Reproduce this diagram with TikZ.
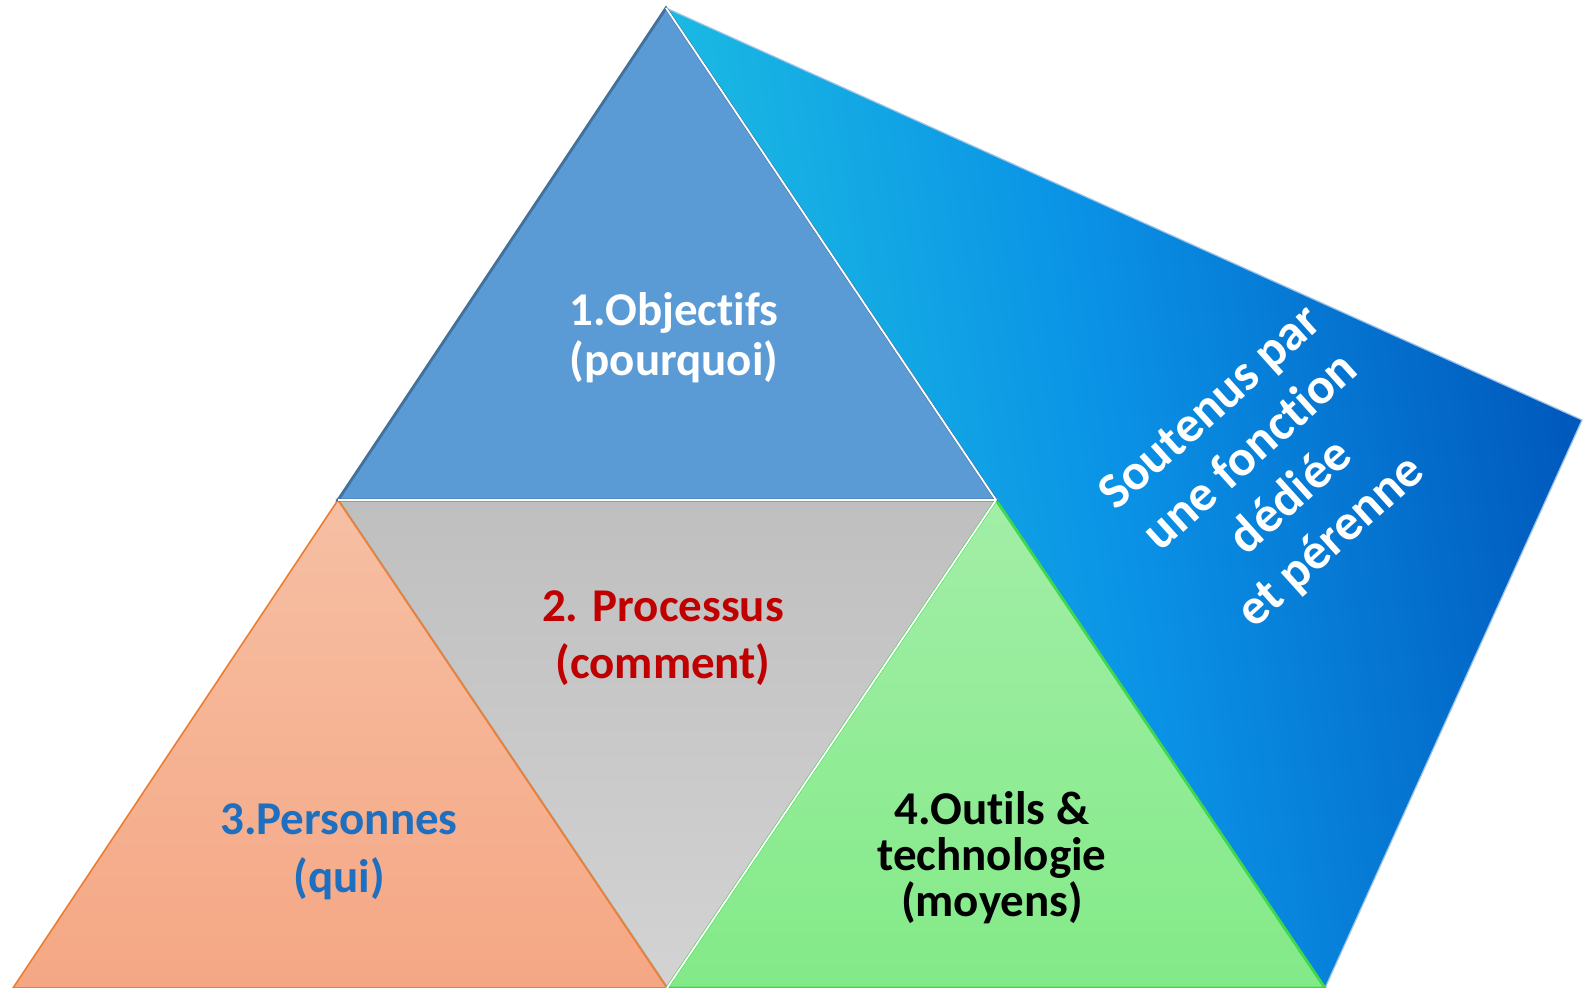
\documentclass[tikz,border=0pt]{standalone}
\usepackage{fontspec}
\setmainfont[RawFeature={-liga;-clig;-calt;-dlig}]{Carlito}
\usepackage{xcolor}
\usetikzlibrary{positioning}

\definecolor{objfill}{HTML}{5B9BD5}
\definecolor{objedge}{HTML}{41719C}
\definecolor{proctop}{HTML}{BFBFBF}
\definecolor{procbot}{HTML}{D3D3D3}
\definecolor{procedge}{HTML}{A8A8A8}
\definecolor{perstop}{HTML}{F6BFA4}
\definecolor{persbot}{HTML}{F5A784}
\definecolor{persedge}{HTML}{ED7D31}
\definecolor{outtop}{HTML}{A2EEA7}
\definecolor{outbot}{HTML}{83EA88}
\definecolor{outedge}{HTML}{3ED84A}
\definecolor{soutlight}{HTML}{1EC2E2}
\definecolor{soutmid}{HTML}{0A92E6}
\definecolor{soutdark}{HTML}{0058BC}
\definecolor{proctext}{HTML}{C00000}
\definecolor{perstext}{HTML}{1E6FBF}

\begin{document}
\begin{tikzpicture}[x=0.5pt,y=-0.5pt,
  edge/.style={line width=1.4pt,line join=miter},
  gap/.style={draw=white,line width=0.9pt},
  title/.style={align=center,font=\bfseries\fontsize{23.5}{#1}\selectfont}]
  \useasboundingbox (0,0) rectangle (1583,988);

  % corners
  \coordinate (T) at (666,8);
  \coordinate (ML) at (338,500);
  \coordinate (MR) at (996,500);
  \coordinate (BL) at (13,988);
  \coordinate (BM) at (667,988);
  \coordinate (BR) at (1325,988);
  \coordinate (RC) at (1582,420);

  % side band
  \shade[left color=soutlight,right color=soutdark,middle color=soutmid,
    shading angle=99] (T) -- (RC) -- (BR) -- (MR) -- cycle;
  \draw[draw=objfill!60!white,line width=0.6pt] (T) -- (RC) -- (BR);

  % the four triangles
  \shade[top color=proctop,bottom color=procbot] (ML) -- (MR) -- (BM) -- cycle;
  \draw[edge,draw=procedge] (ML) -- (MR) -- (BM) -- cycle;
  \shade[top color=perstop,bottom color=persbot] (ML) -- (BM) -- (BL) -- cycle;
  \draw[edge,draw=persedge,line width=0.8pt] (ML) -- (BM) -- (BL) -- cycle;
  \shade[top color=outtop,bottom color=outbot] (MR) -- (BR) -- (BM) -- cycle;
  \draw[edge,draw=outedge] (MR) -- (BR) -- (BM) -- cycle;
  \fill[objfill] (T) -- (MR) -- (ML) -- cycle;
  \draw[edge,draw=objedge] (T) -- (MR) -- (ML) -- cycle;

  \draw[gap] (ML) -- (MR);
  \draw[gap] (MR) -- (BM);
  \draw[gap] (T) -- (MR);

  % texts
  \node[title=25,text=white] (obj) at (674,338) {1.Objectifs\\(pourquoi)};
  \node[title=28.5,text=proctext] (proc) at (663,638) {2. Processus\\(comment)};
  \node[title=29,text=perstext] (pers) at (339,852) {3.Personnes\\(qui)};
  \node[title=23,text=black] (outils) at (992,858)
    {4.Outils \&\\technologie\\(moyens)};
  \node[align=center,text=white,rotate=42,
    font=\bfseries\fontsize{25.5}{30}\selectfont] (soutien) at (1272,476)
    {Soutenus par\\une fonction\\dédiée\\et pérenne};
\end{tikzpicture}
\end{document}
